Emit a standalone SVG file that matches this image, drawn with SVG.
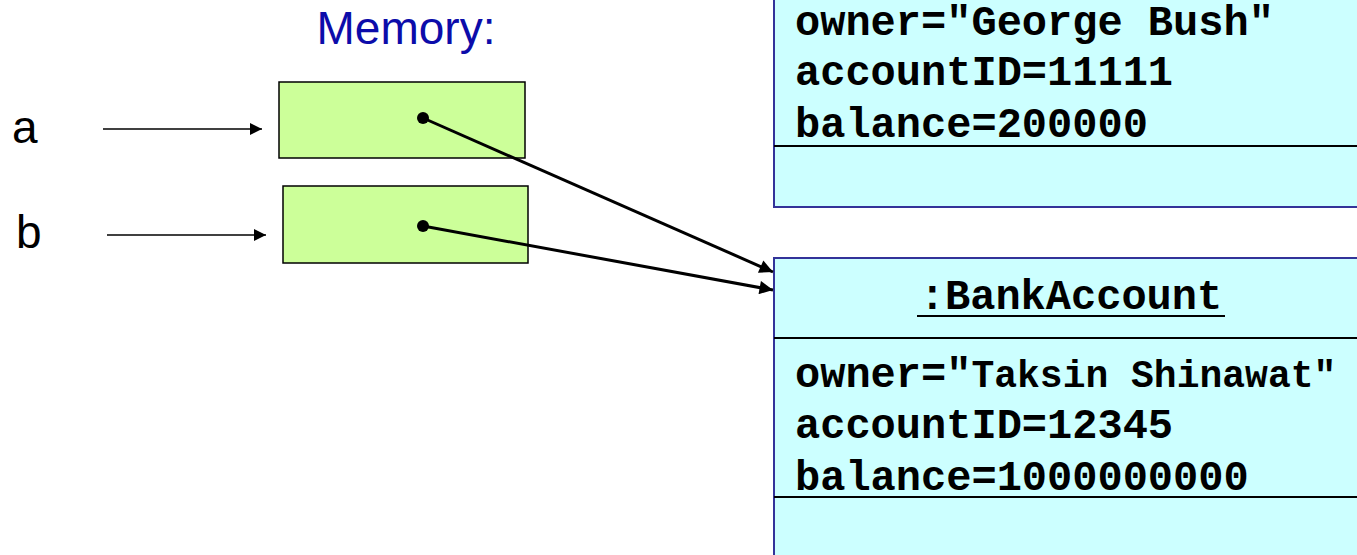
<svg xmlns="http://www.w3.org/2000/svg" width="1357" height="555" viewBox="0 0 1357 555">
  <defs>
    <style>
      .obj { fill: #CCFFFF; stroke: #333399; stroke-width: 2; }
      .div { stroke: #000000; stroke-width: 2; }
      .cell { fill: #CCFF99; stroke: #000000; stroke-width: 1.5; }
      .mono { font-family: "Liberation Mono", "Courier New", monospace; font-weight: bold; font-size: 42px; fill: #000000; }
      .small { font-size: 38px; }
      .var { font-family: "Liberation Sans", Arial, sans-serif; font-size: 46px; fill: #000000; }
      .title { font-family: "Liberation Sans", Arial, sans-serif; font-size: 46px; fill: #0C0CAA; }
      .thin { stroke: #000000; stroke-width: 1.5; fill: none; }
      .ref { stroke: #000000; stroke-width: 3; fill: none; }
    </style>
    <marker id="headThin" viewBox="0 0 10 10" refX="10" refY="5" markerWidth="10" markerHeight="8" markerUnits="strokeWidth" orient="auto">
      <path d="M0,0 L10,5 L0,10 z" fill="#000000"/>
    </marker>
    <marker id="headRef" viewBox="0 0 10 10" refX="10" refY="5" markerWidth="6" markerHeight="4.5" markerUnits="strokeWidth" orient="auto">
      <path d="M0,0 L10,5 L0,10 z" fill="#000000"/>
    </marker>
  </defs>

  <rect width="1357" height="555" fill="#FFFFFF"/>

  <text class="title" x="406" y="44" text-anchor="middle">Memory:</text>

  <!-- first account object (top, partly off-canvas) -->
  <g id="account1">
    <rect class="obj" x="774" y="-10" width="600" height="217"/>
    <line class="div" x1="774" y1="146" x2="1357" y2="146"/>
    <text class="mono" x="795" y="35">owner="George Bush"</text>
    <text class="mono" x="795" y="85">accountID=11111</text>
    <text class="mono" x="795" y="137">balance=200000</text>
  </g>

  <!-- second account object -->
  <g id="account2">
    <rect class="obj" x="774" y="258" width="600" height="310"/>
    <line class="div" x1="774" y1="338" x2="1357" y2="338"/>
    <line class="div" x1="774" y1="497" x2="1357" y2="497"/>
    <text class="mono" x="1071" y="309" text-anchor="middle">:BankAccount</text>
    <line x1="917" y1="316" x2="1225" y2="316" stroke="#000000" stroke-width="2"/>
    <text class="mono" x="795" y="387">owner="<tspan class="small">Taksin Shinawat"</tspan></text>
    <text class="mono" x="795" y="438">accountID=12345</text>
    <text class="mono" x="795" y="490">balance=1000000000</text>
  </g>

  <!-- reference variables -->
  <g id="varA">
    <text class="var" x="12" y="143">a</text>
    <rect class="cell" x="279" y="82" width="246" height="76"/>
    <circle cx="423" cy="118" r="6" fill="#000000"/>
  </g>
  <g id="varB">
    <text class="var" x="16" y="248">b</text>
    <rect class="cell" x="283" y="186" width="245" height="77"/>
    <circle cx="423" cy="226" r="6" fill="#000000"/>
  </g>

  <g id="connectors">
    <line class="thin" x1="103" y1="129" x2="262" y2="129" marker-end="url(#headThin)"/>
    <line class="thin" x1="107" y1="235" x2="266" y2="235" marker-end="url(#headThin)"/>
    <line class="ref" x1="423" y1="118" x2="773" y2="272" marker-end="url(#headRef)"/>
    <line class="ref" x1="423" y1="226" x2="773" y2="290" marker-end="url(#headRef)"/>
  </g>
</svg>
